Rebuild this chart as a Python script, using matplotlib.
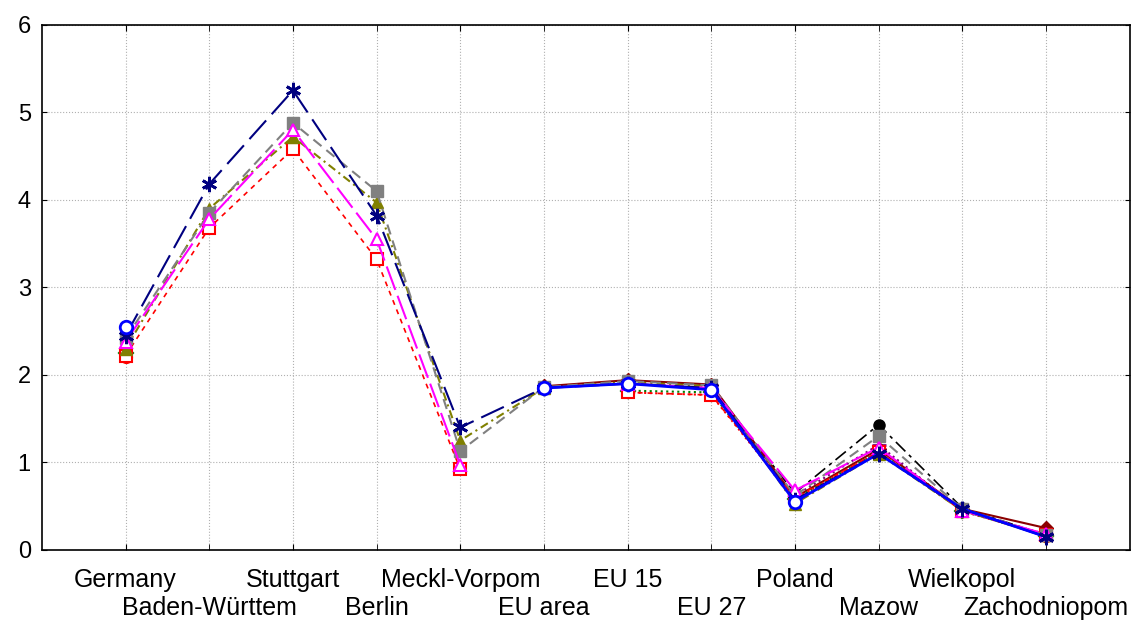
import numpy as np
import matplotlib.pyplot as plt

plt.rcParams['font.family'] = ['Liberation Sans', 'DejaVu Sans']

regions = ['Germany', 'Baden-Württem', 'Stuttgart', 'Berlin', 'Meckl-Vorpom',
           'EU area', 'EU 15', 'EU 27', 'Poland', 'Mazow', 'Wielkopol', 'Zachodniopom']
nan = np.nan

s_navy = [2.45, 4.18, 5.25, 3.82, 1.40, 1.85, 1.90, 1.85, 0.57, 1.10, 0.47, 0.15]
s_grey = [2.42, 3.85, 4.88, 4.10, 1.13, 1.86, 1.93, 1.88, 0.62, 1.30, 0.47, 0.17]
s_olive = [2.30, 3.90, 4.72, 3.97, 1.25, 1.85, 1.92, 1.87, 0.53, 1.10, 0.45, 0.17]
s_magenta = [2.38, 3.78, 4.80, 3.55, 0.97, nan, 1.90, 1.85, 0.68, 1.17, 0.45, 0.18]
s_red_sq = [2.22, 3.68, 4.58, 3.32, 0.92, nan, 1.80, 1.77, 0.60, 1.12, 0.45, 0.17]
s_blue = [2.55, nan, nan, nan, nan, 1.85, 1.90, 1.83, 0.55, 1.10, 0.47, 0.15]
s_green = [2.25, nan, nan, nan, nan, nan, 1.82, 1.80, 0.58, 1.12, 0.45, 0.16]
s_red_ci = [2.20, nan, nan, nan, nan, nan, 1.80, 1.77, 0.58, 1.12, 0.45, 0.16]
s_black = [nan, nan, nan, nan, nan, nan, nan, 1.85, 0.65, 1.43, 0.48, 0.17]
s_darkred = [nan, nan, nan, nan, nan, 1.87, 1.94, 1.89, 0.60, 1.15, 0.47, 0.25]
s_purple = [nan, nan, nan, nan, nan, nan, nan, nan, 0.62, 1.20, 0.44, 0.18]

x = np.arange(1, len(regions) + 1)

fig = plt.figure(figsize=(11.33, 6.2), dpi=100)
ax = fig.add_axes([0.037, 0.113, 0.960, 0.847])

ms = 8
ax.plot(x, s_black, color='black', dashes=(8, 3, 2, 3), lw=1.2, marker='o', ms=ms)
ax.plot(x, s_purple, color='#800080', ls=':', lw=1.5, marker='+', ms=ms + 2, mew=2)
ax.plot(x, s_darkred, color='#8b0000', ls='-', lw=1.5, marker='D', ms=ms - 1)
ax.plot(x, s_green, color='green', ls=':', lw=1.5, marker='D', ms=ms - 1, mfc='white', mew=1.5)
ax.plot(x, s_red_ci, color='red', ls=':', lw=1.5, marker='o', ms=ms, mfc='white', mew=1.5)
ax.plot(x, s_red_sq, color='red', dashes=(3, 3), lw=1.2, marker='s', ms=ms, mfc='white', mew=1.5)
ax.plot(x, s_olive, color='#808000', dashes=(4, 2, 1, 2), lw=1.5, marker='^', ms=ms + 1)
ax.plot(x, s_grey, color='gray', dashes=(5, 3), lw=1.5, marker='s', ms=ms)
ax.plot(x, s_magenta, color='magenta', dashes=(12, 3), lw=1.5, marker='^', ms=ms + 1, mfc='white', mew=1.5)
ax.plot(x, s_navy, color='#000080', dashes=(12, 4), lw=1.5, marker=(6, 2, 0), ms=ms + 3, mew=2)
ax.plot(x, s_blue, color='blue', ls='-', lw=2.0)
ax.plot(x[:9], s_blue[:9], color='blue', ls='none', marker='o', ms=ms + 1, mfc='white', mew=2)
# navy asterisks on top in the Polish regions
ax.plot(x[9:], s_navy[9:], color='#000080', ls='none', marker=(6, 2, 0), ms=ms + 3, mew=2)

ax.set_xlim(0, len(regions) + 1)
ax.set_ylim(0, 6)
# alternate labels between two rows
ax.set_xticks(x[0::2])
ax.set_xticklabels(regions[0::2], fontsize=18)
ax.set_xticks(x[1::2], minor=True)
ax.set_xticklabels(regions[1::2], minor=True, fontsize=18)
ax.set_yticks(range(0, 7))
ax.tick_params(axis='y', labelsize=17, direction='in', right=True, pad=8)
ax.tick_params(axis='x', which='both', direction='in', top=True, length=4)
ax.tick_params(axis='x', which='major', pad=13)
ax.tick_params(axis='x', which='minor', pad=33)
ax.grid(True, which='both', axis='x', color='#b0b0b0', ls=':', lw=0.8)
ax.grid(True, which='major', axis='y', color='#b0b0b0', ls=':', lw=0.8)
for sp in ax.spines.values():
    sp.set_linewidth(1.2)

fig.savefig('out.png', dpi=100)
